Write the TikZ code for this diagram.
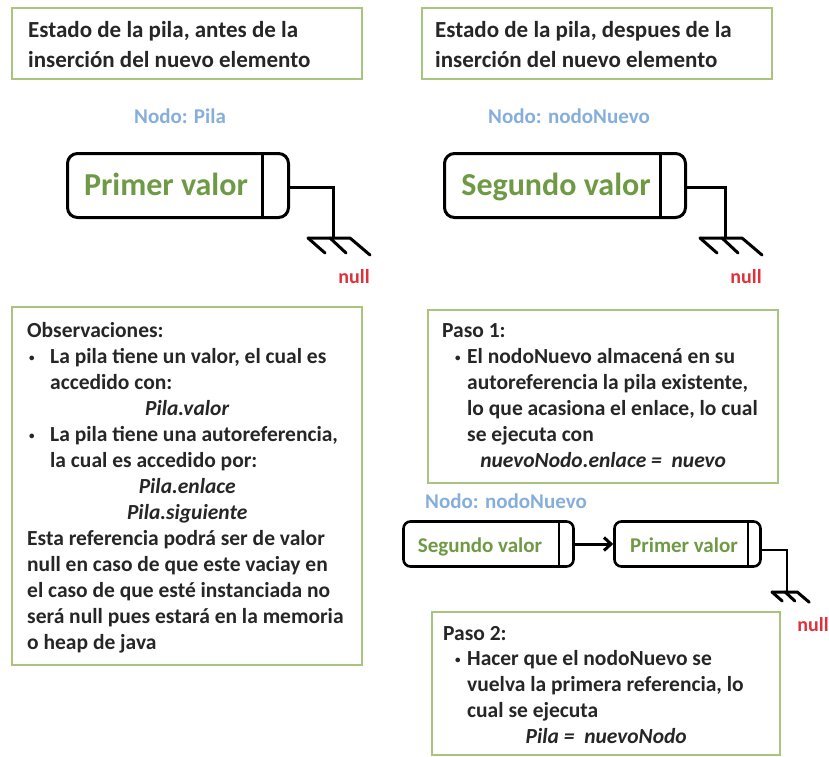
\documentclass[tikz,border=0pt]{standalone}
\usepackage{fontspec}
\setmainfont{Carlito}
\usetikzlibrary{arrows.meta}
\definecolor{boxgreen}{HTML}{A9C47F}
\definecolor{txtdark}{HTML}{262626}
\definecolor{valgreen}{HTML}{6F9A45}
\definecolor{nodeblue}{HTML}{86AEDB}
\definecolor{nullred}{HTML}{E0303A}
\newcommand\mybul[1]{\hbox to #1{\hskip2pt\raise2pt\hbox{\fontsize{11}{11}\selectfont•}\hfil}}
\begin{document}
\begin{tikzpicture}[x=1pt,y=-1pt,
  greenbox/.style={draw=boxgreen, line width=1.5pt, fill=white, inner sep=0pt},
  titletxt/.style={anchor=base west, inner sep=0pt, text=txtdark, font=\fontsize{23}{30}\selectfont\bfseries},
  bodytxt/.style={anchor=base west, inner sep=0pt, text=txtdark, font=\fontsize{21.5}{26}\selectfont\bfseries},
  valbox/.style={draw=black, line width=3pt, rounded corners=10pt, inner sep=0pt},
  smallbox/.style={draw=black, line width=2.6pt, rounded corners=7pt, inner sep=0pt},
  biglabel/.style={anchor=base, inner sep=0pt, text=valgreen, font=\fontsize{32}{36}\selectfont\bfseries},
  smalllabel/.style={anchor=base, inner sep=0pt, text=valgreen, font=\fontsize{21}{24}\selectfont\bfseries},
  nodelabel/.style={anchor=base, inner sep=0pt, text=nodeblue, font=\fontsize{21}{24}\selectfont\bfseries},
  nulllabel/.style={anchor=base, inner sep=0pt, text=nullred, font=\fontsize{20}{24}\selectfont\bfseries},
  conn/.style={draw=black, line width=3pt},
  earth/.pic={
    \draw[line width=3pt, line cap=round, line join=round] (-25,0) -- (17,0) -- (37,17);
    \draw[line width=3pt, line cap=round] (-25,0) -- (-8,15);
    \draw[line width=3pt, line cap=round] (-3,0) -- (13,15);
  }]
\useasboundingbox (0,0) rectangle (829,756);

% title boxes
\node[greenbox, minimum width=350, minimum height=71] (t1) at (187,43.5) {};
\node[titletxt] (t1txt) at (28,37) {\vtop{\hbox{Estado de la pila, antes de la}\hbox{inserción del nuevo elemento}}};
\node[greenbox, minimum width=350, minimum height=71] (t2) at (597,43.5) {};
\node[titletxt] (t2txt) at (435,37) {\vtop{\hbox{Estado de la pila, despues de la}\hbox{inserción del nuevo elemento}}};

% node labels
\node[nodelabel] (lab1) at (180,123) {Nodo: Pila};
\node[nodelabel] (lab2) at (569,123) {Nodo: nodoNuevo};

% big node 1
\node[valbox, minimum width=221, minimum height=64] (n1) at (178,185.5) {};
\draw[line width=3pt] ([xshift=-28pt]n1.north east) -- ([xshift=-28pt]n1.south east);
\node[biglabel] (v1) at (166,195) {Primer valor};
\coordinate (g1) at (333,238);
\draw[conn] ([yshift=-1.5pt]n1.east) -| (g1);
\pic at (g1) {earth};
\node[nulllabel] (null1) at (354,283) {null};

% big node 2
\node[valbox, minimum width=241, minimum height=64] (n2) at (565,185.5) {};
\draw[line width=3pt] ([xshift=-27pt]n2.north east) -- ([xshift=-27pt]n2.south east);
\node[biglabel] (v2) at (556,195) {Segundo valor};
\coordinate (g2) at (725,238);
\draw[conn] ([yshift=-1.5pt]n2.east) -| (g2);
\pic at (g2) {earth};
\node[nulllabel] (null2) at (746,283) {null};

% observaciones
\node[greenbox, minimum width=350, minimum height=358] (obs) at (187,486) {};
\node[bodytxt] (obstxt) at (27,337) {\vtop{\hsize=320pt
\hbox{Observaciones:}
\hbox{\mybul{23pt}La pila tiene un valor, el cual es}
\hbox{\hskip23pt accedido con:}
\hbox to\hsize{\hfil\textit{Pila.valor}\hfil}
\hbox{\mybul{23pt}La pila tiene una autoreferencia,}
\hbox{\hskip23pt la cual es accedido por:}
\hbox to\hsize{\hfil\textit{Pila.enlace}\hfil}
\hbox to\hsize{\hfil\textit{Pila.siguiente}\hfil}
\hbox{Esta referencia podrá ser de valor}
\hbox{null en caso de que este vaciay en}
\hbox{el caso de que esté instanciada no}
\hbox{será null pues estará en la memoria}
\hbox{o heap de java}}};

% paso 1
\node[greenbox, minimum width=350, minimum height=173] (p1) at (603,396.5) {};
\node[bodytxt] (p1txt) at (442,337) {\vtop{\hsize=322pt
\hbox{Paso 1:}
\hbox{\hskip11pt\mybul{14pt}El nodoNuevo almacená en su}
\hbox{\hskip25pt autoreferencia la pila existente,}
\hbox{\hskip25pt lo que acasiona el enlace, lo cual}
\hbox{\hskip25pt se ejecuta con}
\hbox to\hsize{\hfil\textit{nuevoNodo.enlace =\ \ nuevo}\hfil}}};

% linked list
\node[nodelabel] (lab3) at (506,508) {Nodo: nodoNuevo};
\node[smallbox, minimum width=170, minimum height=45] (nA) at (488.5,544) {};
\draw[line width=2.6pt] ([xshift=-16pt]nA.north east) -- ([xshift=-16pt]nA.south east);
\node[smalllabel] (vA) at (480,552) {Segundo valor};
\node[smallbox, minimum width=146, minimum height=45] (nB) at (687.5,544) {};
\draw[line width=2.6pt] ([xshift=-14pt]nB.north east) -- ([xshift=-14pt]nB.south east);
\node[smalllabel] (vB) at (684,552) {Primer valor};
\draw[conn, -{Straight Barb[length=7pt,width=13pt]}] (nA.east) -- (nB.west);
\coordinate (g3) at (787,592);
\draw[line width=2.6pt] ([yshift=-6pt]nB.east) -| (g3);
\pic[scale=0.6] at (g3) {earth};
\node[nulllabel] (null3) at (813,631) {null};

% paso 2
\node[greenbox, minimum width=348, minimum height=143] (p2) at (606,683.5) {};
\node[bodytxt] (p2txt) at (443,640) {\vtop{\hsize=326pt \baselineskip=25.8pt
\hbox{Paso 2:}
\hbox{\hskip10pt\mybul{14pt}Hacer que el nodoNuevo se}
\hbox{\hskip24pt vuelva la primera referencia, lo}
\hbox{\hskip24pt cual se ejecuta}
\hbox to\hsize{\hfil\textit{Pila =\ \ nuevoNodo}\hfil}}};
\end{tikzpicture}
\end{document}
